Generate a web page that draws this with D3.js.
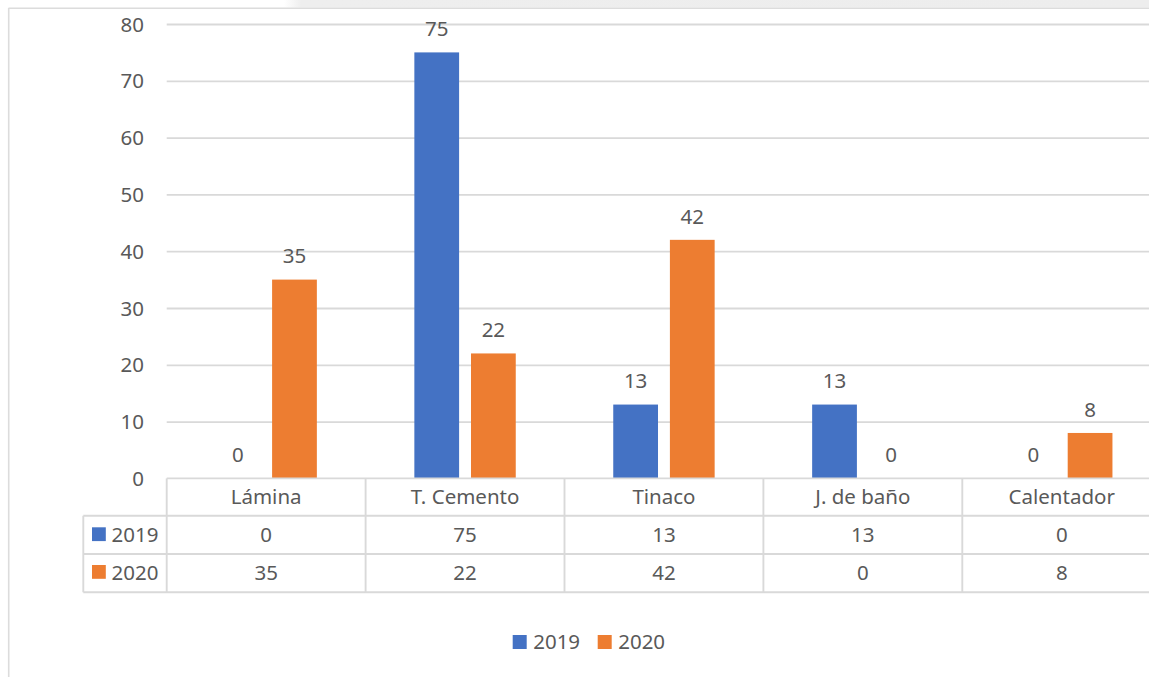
<!DOCTYPE html>
<html>
<head>
<meta charset="utf-8">
<script src="https://cdn.jsdelivr.net/npm/d3@7"></script>
<style>
  html, body { margin: 0; padding: 0; background: #ffffff; overflow: hidden; }
  svg { display: block; }
  text { font-family: "Noto Sans", "Open Sans", sans-serif; fill: #595959; }
</style>
</head>
<body>
<svg id="chart" width="1149" height="677"></svg>
<script>
// ---- data ----
const categories = ["Lámina", "T. Cemento", "Tinaco", "J. de baño", "Calentador"];
const seriesNames = ["2019", "2020"];
const values2019 = [0, 75, 13, 13, 0];
const values2020 = [35, 22, 42, 0, 8];
const yTicks = [0, 10, 20, 30, 40, 50, 60, 70, 80];
const colors = ["#4472C4", "#ED7D31"];

const seriesValues = [values2019, values2020];

// ---- layout ----
const W = 1149, H = 677;
const plotLeft = 166.7, catStep = 198.9;
const plotRight = plotLeft + catStep * categories.length;
const yTop = 24, yZero = 478.4;
const rowH = [37.3, 38.3, 38.3];
const tableLeft = 83.3;
const fontSize = 20.5;
const gridColor = "#d9d9d9";

const svg = d3.select("#chart");

// outer chrome: gray band, top and left border
const defs = svg.append("defs");
const grad = defs.append("linearGradient").attr("id", "band").attr("x1", "0").attr("x2", "1");
grad.append("stop").attr("offset", "0").attr("stop-color", "#ffffff");
grad.append("stop").attr("offset", "0.02").attr("stop-color", "#eeeeee");
grad.append("stop").attr("offset", "1").attr("stop-color", "#ededed");
svg.append("rect").attr("x", 284).attr("y", 0).attr("width", W - 284).attr("height", 7.5).attr("fill", "url(#band)");
svg.append("line").attr("x1", 8.5).attr("x2", W).attr("y1", 8.2).attr("y2", 8.2)
  .attr("stroke", "#dcdcdc").attr("stroke-width", 1.6);
svg.append("line").attr("x1", 8.7).attr("x2", 8.7).attr("y1", 8).attr("y2", H)
  .attr("stroke", "#dcdcdc").attr("stroke-width", 1.6);

// scales
const x0 = d3.scaleBand().domain(categories).range([plotLeft, plotRight]).paddingInner(0).paddingOuter(0);
const groupW = 101.4;
const x1 = d3.scaleBand().domain(seriesNames).range([(catStep - groupW) / 2, (catStep + groupW) / 2]).paddingInner(0.21);
const y = d3.scaleLinear().domain([0, 80]).range([yZero, yTop]);

// gridlines + y tick labels
const yAxis = d3.axisLeft(y).tickValues(yTicks).tickSize(0).tickPadding(0);
const gy = svg.append("g").attr("transform", `translate(${plotLeft},0)`).call(yAxis);
gy.select(".domain").remove();
gy.selectAll(".tick text")
  .attr("x", 144 - plotLeft)
  .attr("dy", "0.35em")
  .style("font-family", '"Noto Sans", sans-serif')
  .style("font-size", fontSize + "px")
  .attr("fill", "#595959");
gy.selectAll(".tick").filter(d => d !== 0).append("line")
  .attr("x1", 0).attr("x2", plotRight - plotLeft)
  .attr("stroke", gridColor).attr("stroke-width", 1.8);

// bars
const data = [];
categories.forEach((c, i) => seriesNames.forEach((s, j) => data.push({ cat: c, ser: s, v: seriesValues[j][i], j })));
const gBars = svg.append("g");
gBars.selectAll("rect").data(data).join("rect")
  .attr("x", d => x0(d.cat) + x1(d.ser))
  .attr("y", d => y(d.v))
  .attr("width", x1.bandwidth())
  .attr("height", d => y(0) - y(d.v))
  .attr("fill", d => colors[d.j]);

// bar labels
gBars.selectAll("text").data(data).join("text")
  .attr("x", d => x0(d.cat) + x1(d.ser) + x1.bandwidth() / 2)
  .attr("y", d => y(d.v) - 16.2)
  .attr("text-anchor", "middle")
  .style("font-size", fontSize + "px")
  .text(d => d.v);

// data table
const rowTops = [yZero, yZero + rowH[0], yZero + rowH[0] + rowH[1], yZero + rowH[0] + rowH[1] + rowH[2]];
const tbl = svg.append("g").attr("stroke", gridColor).attr("stroke-width", 1.9).attr("fill", "none");
// horizontal lines
tbl.append("line").attr("x1", plotLeft).attr("x2", plotRight).attr("y1", rowTops[0]).attr("y2", rowTops[0]);
[1, 2, 3].forEach(k => tbl.append("line").attr("x1", tableLeft).attr("x2", plotRight).attr("y1", rowTops[k]).attr("y2", rowTops[k]));
// vertical lines
tbl.append("line").attr("x1", tableLeft).attr("x2", tableLeft).attr("y1", rowTops[1]).attr("y2", rowTops[3]);
categories.forEach(c => tbl.append("line").attr("x1", x0(c)).attr("x2", x0(c)).attr("y1", rowTops[0]).attr("y2", rowTops[3]));
tbl.append("line").attr("x1", plotRight).attr("x2", plotRight).attr("y1", rowTops[0]).attr("y2", rowTops[3]);

const rowBase = [504, 542.3, 580];
svg.append("g").selectAll("text").data(categories).join("text")
  .attr("x", d => x0(d) + x0.bandwidth() / 2)
  .attr("y", rowBase[0])
  .attr("text-anchor", "middle")
  .style("font-size", fontSize + "px")
  .text(d => d);

seriesNames.forEach((s, j) => {
  const g = svg.append("g");
  g.selectAll("text").data(seriesValues[j]).join("text")
    .attr("x", (d, i) => x0(categories[i]) + x0.bandwidth() / 2)
    .attr("y", rowBase[j + 1])
    .attr("text-anchor", "middle")
    .style("font-size", fontSize + "px")
    .text(d => d);
  g.append("rect").attr("x", 92).attr("y", rowBase[j + 1] - 15).attr("width", 13.8).attr("height", 13.8).attr("fill", colors[j]);
  g.append("text").attr("x", 111.5).attr("y", rowBase[j + 1]).style("font-size", fontSize + "px").text(s);
});

// legend
const legendX = [512.7, 597.7];
const legend = svg.append("g");
seriesNames.forEach((s, j) => {
  legend.append("rect").attr("x", legendX[j]).attr("y", 635).attr("width", 14).attr("height", 14).attr("fill", colors[j]);
  legend.append("text").attr("x", legendX[j] + 20.5).attr("y", 649).style("font-size", fontSize + "px").text(s);
});
</script>
</body>
</html>
